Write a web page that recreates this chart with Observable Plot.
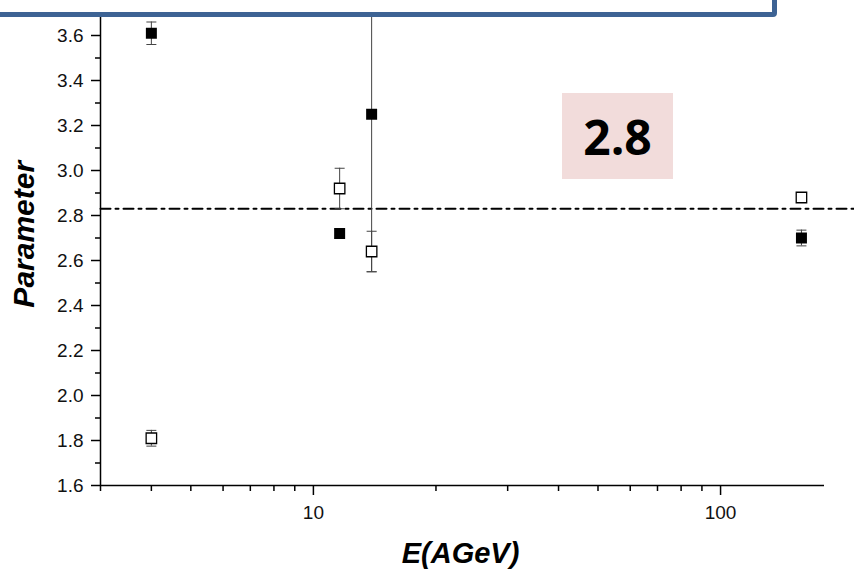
<!DOCTYPE html>
<html>
<head>
<meta charset="utf-8">
<script src="https://cdn.jsdelivr.net/npm/d3@7"></script>
<script src="https://cdn.jsdelivr.net/npm/@observablehq/plot@0.6"></script>
<style>
  html, body { margin: 0; padding: 0; background: white; }
  #wrap { position: relative; width: 854px; height: 571px; overflow: hidden; background: white; }
  #topbox { position: absolute; left: -10px; top: -30px; width: 777px; height: 37px;
            border: 5px solid #3d6394; border-radius: 4px; background: white; z-index: 2; }
  #note { position: absolute; left: 562px; top: 93px; width: 111px; height: 86px;
          background: #f2dcdb; display: flex; align-items: center; justify-content: center;
          font-family: "Open Sans", sans-serif; font-weight: bold; font-size: 48px; color: #000; z-index: 1; }
</style>
</head>
<body>
<div id="wrap">
  <div id="chart"></div>
  <div id="note">2.8</div>
  <div id="topbox"></div>
</div>
<script>
// Data
const energies   = [4, 11.6, 13.9, 158];          // E (AGeV)
const filledVals = [3.61, 2.72, 3.25, 2.70];
const filledErr  = [0.05, 0.02, 0.70, 0.035];
const openVals   = [1.81, 2.92, 2.64, 2.88];
const openErr    = [0.035, 0.09, 0.09, 0];
const refLevel   = 2.83;                          // dash-dot reference line
const refXs      = [3, 215];
const yMajorTicks = [1.6, 1.8, 2.0, 2.2, 2.4, 2.6, 2.8, 3.0, 3.2, 3.4, 3.6];
const yMinorTicks = [1.7, 1.9, 2.1, 2.3, 2.5, 2.7, 2.9, 3.1, 3.3, 3.5, 3.7];
const xMajorTicks = [10, 100];
const xMinorTicks = [3, 4, 5, 6, 7, 8, 9, 20, 30, 40, 50, 60, 70, 80, 90];

const filled = energies.map((e, i) => ({x: e, y: filledVals[i], err: filledErr[i]}));
const open   = energies.map((e, i) => ({x: e, y: openVals[i], err: openErr[i]}));
const ref    = refXs.map(x => ({x, y: refLevel}));
const withErr = [...filled, ...open].filter(d => d.err > 0);
const caps = withErr.flatMap(d => [{x: d.x, y: d.y - d.err}, {x: d.x, y: d.y + d.err}]);

const capSymbol = {
  draw(ctx, size) { const w = Math.sqrt(size / Math.PI); ctx.moveTo(-w, 0); ctx.lineTo(w, 0); }
};

const font = "'Liberation Sans', Arial, sans-serif";

const chart = Plot.plot({
  width: 854, height: 571,
  marginLeft: 100, marginRight: 30, marginTop: 12.5, marginBottom: 86,
  x: {type: "log", domain: [3, 180]},
  y: {domain: [1.6, 3.7]},
  style: {fontFamily: font, background: "white", color: "#000"},
  marks: [
    Plot.axisY(yMajorTicks, {tickSize: 9, tickFormat: () => "", label: null, strokeWidth: 1.5}),
    Plot.axisY(yMinorTicks, {tickSize: 5, tickFormat: () => "", label: null, strokeWidth: 1.5}),
    Plot.axisX(xMajorTicks, {tickSize: 10, tickFormat: () => "", label: null, strokeWidth: 1.5}),
    Plot.axisX(xMinorTicks, {tickSize: 6, tickFormat: () => "", label: null, strokeWidth: 1.5}),
    Plot.text(yMajorTicks, {y: d => d, text: d => d.toFixed(1), frameAnchor: "left", dx: -17, textAnchor: "end", lineAnchor: "middle", fontSize: 19, fontFamily: font, fill: "#111"}),
    Plot.text(xMajorTicks, {x: d => d, text: d => String(d), frameAnchor: "bottom", dy: 27, textAnchor: "middle", lineAnchor: "middle", fontSize: 19, fontFamily: font, fill: "#111"}),
    Plot.ruleX([3], {stroke: "#000", strokeWidth: 1.5}),
    Plot.ruleY([1.6], {stroke: "#000", strokeWidth: 1.5}),
    Plot.lineY(ref, {x: "x", y: "y", stroke: "#000", strokeWidth: 2, strokeDasharray: "10,5,3,5"}),
    Plot.ruleX(withErr, {x: "x", y1: d => d.y - d.err, y2: d => d.y + d.err, stroke: "#444", strokeWidth: 1}),
    Plot.dot(caps, {x: "x", y: "y", symbol: capSymbol, r: 5, stroke: "#444", strokeWidth: 1, fill: "none"}),
    Plot.dot(open, {x: "x", y: "y", symbol: "square", r: 5.9, fill: "white", stroke: "#000", strokeWidth: 1.3}),
    Plot.dot(filled, {x: "x", y: "y", symbol: "square", r: 6.2, fill: "#000", stroke: "none"}),
    Plot.text(["Parameter"], {frameAnchor: "left", dx: -76, dy: -15, rotate: -90, fontSize: 30, fontWeight: "bold", fontStyle: "italic", fontFamily: font, fill: "#000", textAnchor: "middle", lineAnchor: "middle"}),
    Plot.text(["E(AGeV)"], {frameAnchor: "bottom", dx: -2, dy: 68, fontSize: 29, fontWeight: "bold", fontStyle: "italic", fontFamily: font, fill: "#000", textAnchor: "middle", lineAnchor: "middle"})
  ]
});
document.getElementById("chart").appendChild(chart);
</script>
</body>
</html>
